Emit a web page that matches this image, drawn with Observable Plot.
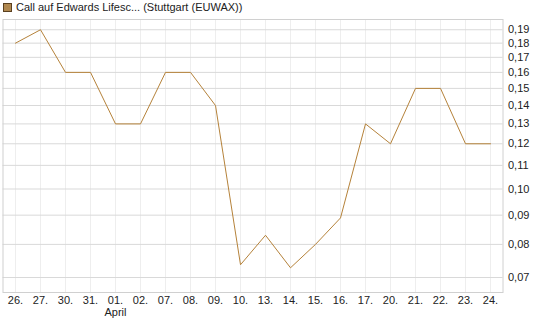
<!DOCTYPE html>
<html>
<head>
<meta charset="utf-8">
<script src="https://cdn.jsdelivr.net/npm/d3@7"></script>
<script src="https://cdn.jsdelivr.net/npm/@observablehq/plot@0.6"></script>
<style>
  html, body { margin: 0; padding: 0; background: #fff; }
  #wrap { position: relative; width: 545px; height: 327px; font-family: "Liberation Sans", Arial, sans-serif; }
  #legend { position: absolute; left: 3px; top: 1px; font-size: 11px; color: #222; display: flex; align-items: center; white-space: nowrap; }
  #legend .sw { display: inline-block; width: 7px; height: 7px; background: #b08850; border: 1px solid #5a4020; margin-right: 4px; }
  #chart { position: absolute; left: 0; top: 0; }
</style>
</head>
<body>
<div id="wrap">
  <div id="chart"></div>
  <div id="legend"><span class="sw"></span><span>Call auf Edwards Lifesc... (Stuttgart (EUWAX))</span></div>
</div>
<script>
const dates = ["26.","27.","30.","31.","01.","02.","07.","08.","09.","10.","13.","14.","15.","16.","17.","20.","21.","22.","23.","24."];
const values = [0.18,0.19,0.16,0.16,0.13,0.13,0.16,0.16,0.14,0.0737,0.083,0.0728,0.08,0.089,0.13,0.12,0.15,0.15,0.12,0.12];
const yTicks = [0.07,0.08,0.09,0.10,0.11,0.12,0.13,0.14,0.15,0.16,0.17,0.18,0.19];
const monthLabels = [{date: "01.", label: "April"}];

const data = dates.map((d, i) => ({date: d, value: values[i]}));
const fmt = v => v.toFixed(2).replace(".", ",");

const chart = Plot.plot({
  width: 545,
  height: 327,
  marginTop: 19,
  marginBottom: 35,
  marginLeft: 2.5,
  marginRight: 42.5,
  style: {fontFamily: "'Liberation Sans', Arial, sans-serif", fontSize: "11px", color: "#222", background: "transparent"},
  x: {type: "point", domain: dates, padding: 0.5},
  y: {type: "log", domain: [0.0659, 0.198], axis: null},
  marks: [
    Plot.gridX({stroke: "#eeeeee", strokeOpacity: 1}),
    Plot.gridY(yTicks, {stroke: "#d9d9d9", strokeOpacity: 1}),
    Plot.frame({stroke: "#d0d0d0"}),
    Plot.text(yTicks, {y: d => d, text: fmt, frameAnchor: "right", dx: 5, textAnchor: "start", fill: "#222"}),
    Plot.axisX({anchor: "bottom", tickSize: 0, tickPadding: 4, fill: "#222", label: null}),
    Plot.text(monthLabels, {x: "date", text: "label", frameAnchor: "bottom", dy: 23, fill: "#222"}),
    Plot.line(data, {x: "date", y: "value", stroke: "#b5823a", strokeWidth: 1})
  ]
});
document.getElementById("chart").appendChild(chart);
</script>
</body>
</html>
